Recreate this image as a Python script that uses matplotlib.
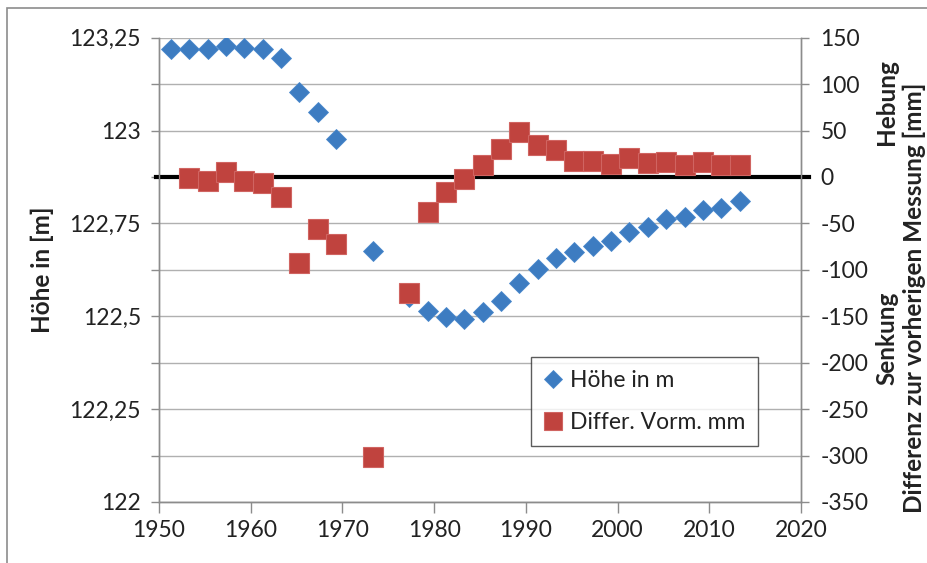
import matplotlib
matplotlib.use("Agg")
import matplotlib.pyplot as plt
from matplotlib.patches import Rectangle

# ---- data ----
years_h = [1951.3, 1953.3, 1955.3, 1957.3, 1959.3, 1961.3, 1963.3, 1965.3, 1967.3,
           1969.3, 1973.3, 1977.3, 1979.3, 1981.3, 1983.3, 1985.3, 1987.3, 1989.3,
           1991.3, 1993.3, 1995.3, 1997.3, 1999.3, 2001.3, 2003.3, 2005.3, 2007.3,
           2009.3, 2011.3, 2013.3]
hoehe_m = [123.220, 123.220, 123.220, 123.228, 123.222, 123.220, 123.195,
           123.103, 123.050, 122.976, 122.676, 122.552, 122.514, 122.497,
           122.494, 122.512, 122.541, 122.590, 122.626, 122.658, 122.673,
           122.689, 122.704, 122.727, 122.740, 122.761, 122.767, 122.787,
           122.792, 122.810]
years_d = [1953.3, 1955.3, 1957.3, 1959.3, 1961.3, 1963.3, 1965.3, 1967.3, 1969.3,
           1973.3, 1977.3, 1979.3, 1981.3, 1983.3, 1985.3, 1987.3, 1989.3, 1991.3,
           1993.3, 1995.3, 1997.3, 1999.3, 2001.3, 2003.3, 2005.3, 2007.3, 2009.3,
           2011.3, 2013.3]
diff_mm = [-1, -4, 5, -4, -7, -22, -93, -56, -72, -302,
           -125, -38, -16, -2, 13, 30, 48, 34, 29, 17, 17,
           14, 20, 15, 16, 13, 16, 13, 13]

x_ticks = [1950, 1960, 1970, 1980, 1990, 2000, 2010, 2020]
left_ticks = [122 + 0.125 * i for i in range(11)]
left_labels = ["122", "", "122,25", "", "122,5", "", "122,75", "", "123", "", "123,25"]
right_ticks = list(range(-350, 151, 50))

W, H = 927, 563
fig = plt.figure(figsize=(W / 100, H / 100), dpi=100)
plt.rcParams['font.family'] = ['Lato', 'DejaVu Sans']
FS = 16.5
LFS = 17.5
TXT = '#222222'

# outer chart frame
fig.patches.append(Rectangle((7 / W, -0.1), 1.2, (H - 8) / H + 0.1, transform=fig.transFigure,
                             fill=False, edgecolor='#8c8c8c', linewidth=1.2))

L, R, T, B = 159, 801, 37.7, 502
ax = fig.add_axes([L / W, (H - B) / H, (R - L) / W, (B - T) / H])
ax2 = ax.twinx()

blue = '#3d7cc1'
red = '#c0433e'

ax.set_xlim(1950, 2020)
ax.set_ylim(122, 123.25)
ax2.set_ylim(-350, 150)

ax.set_yticks(left_ticks)
ax.set_yticklabels(left_labels)
ax.set_xticks(x_ticks)
ax2.set_yticks(right_ticks)
ax2.set_yticklabels([str(v) for v in right_ticks])

for a in (ax, ax2):
    for s in a.spines.values():
        s.set_color('#8c8c8c')
        s.set_linewidth(1.0)
    a.spines['top'].set_visible(False)
    a.tick_params(colors='#8c8c8c', labelcolor=TXT, labelsize=FS, width=1.0)
ax.tick_params(axis='y', length=6, pad=7)
ax.tick_params(axis='x', length=8, pad=5)
ax2.tick_params(axis='y', length=6, pad=8)

ax.set_axisbelow(True)
ax.grid(axis='y', color='#b0b0b0', linewidth=1.0)

# zero line of the secondary axis
ax2.axhline(0, xmin=-0.004, xmax=1.012, color='black', linewidth=3.0, clip_on=False, zorder=2)

pts_h = ax.plot(years_h, hoehe_m, linestyle='none', marker='D', markersize=10.6,
                color=blue, markeredgecolor='#4a88cc', markeredgewidth=0.6, zorder=3,
                label='Höhe in m')[0]
pts_d = ax2.plot(years_d, diff_mm, linestyle='none', marker='s', markersize=14.6,
                 color=red, markeredgecolor='#d06461', markeredgewidth=0.8, zorder=4,
                 label='Differ. Vorm. mm')[0]

ax.set_zorder(1)
ax2.set_zorder(2)
ax2.patch.set_visible(False)

leg = ax2.legend([pts_h, pts_d], ['Höhe in m', 'Differ. Vorm. mm'],
                 loc='upper left', bbox_to_anchor=((531 - L) / (R - L), (B - 357) / (B - T)),
                 fontsize=FS, frameon=True, fancybox=False, borderpad=0.55,
                 labelspacing=0.95, handlelength=0.8, handletextpad=0.35, borderaxespad=0)
leg.get_frame().set_edgecolor('#333333')
leg.get_frame().set_linewidth(1.0)
for t in leg.get_texts():
    t.set_color(TXT)
for hnd in leg.legend_handles:
    hnd.set_markersize(hnd.get_markersize() * 0.85)

# axis titles
fig.text(42 / W, 1 - 270 / H, 'Höhe in [m]', rotation=90, ha='center', va='center',
         fontsize=LFS, fontweight='bold', color=TXT)
fig.text(887 / W, 1 - 102 / H, 'Hebung', rotation=90, ha='center', va='center',
         fontsize=LFS, fontweight='bold', color=TXT)
fig.text(887 / W, 1 - 338 / H, 'Senkung', rotation=90, ha='center', va='center',
         fontsize=LFS, fontweight='bold', color=TXT)
fig.text(914 / W, 1 - 298 / H, 'Differenz zur vorherigen Messung [mm]', rotation=90,
         ha='center', va='center', fontsize=LFS, fontweight='bold', color=TXT)

fig.savefig('out.png', dpi=100)
